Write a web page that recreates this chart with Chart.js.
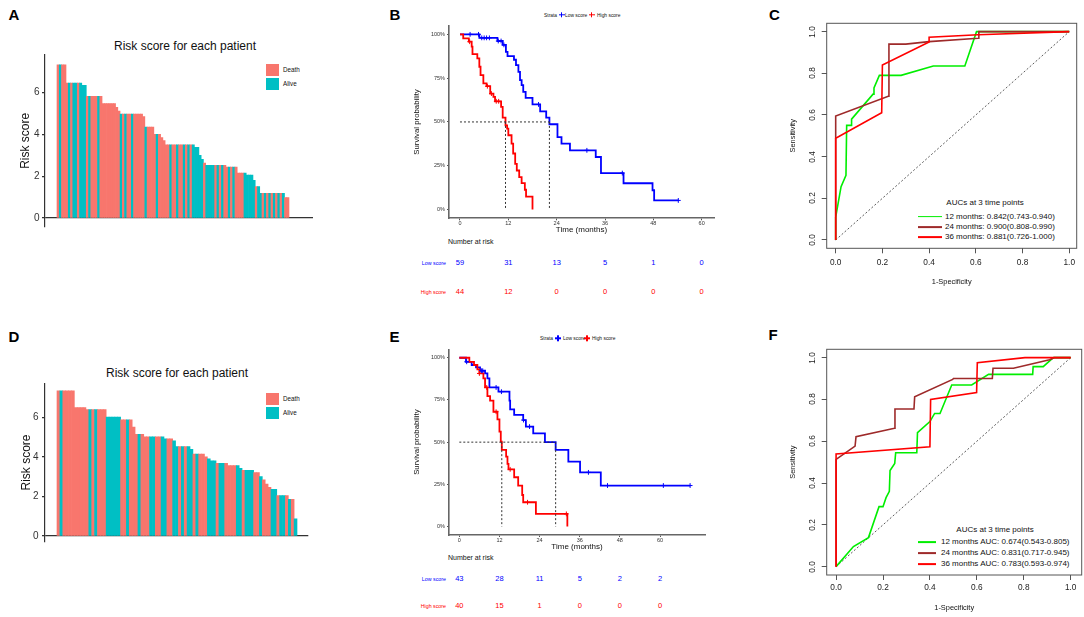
<!DOCTYPE html>
<html>
<head>
<meta charset="utf-8">
<title>Risk score, survival and time-dependent ROC</title>
<script src="https://cdn.jsdelivr.net/npm/chart.js@4.4.1/dist/chart.umd.min.js"></script>
<style>
  html, body { margin: 0; padding: 0; background: #fff; }
  body { position: relative; width: 1084px; height: 617px; overflow: hidden;
         font-family: "Liberation Sans", Arial, sans-serif; color: #111; }
  .panel { position: absolute; }
  .txt { position: absolute; white-space: nowrap; line-height: 1; }
  .c { transform: translate(-50%, -50%); }
  .l { transform: translateY(-50%); }
  .r { transform: translate(-100%, -50%); }
  .rot { transform: translate(-50%, -50%) rotate(-90deg); }
  /* very small labels: draw at double size, then halve */
  .l.tiny { transform-origin: 0 50%; transform: translateY(-50%) scale(0.5); }
  .r.tiny { transform-origin: 100% 50%; transform: translate(-100%, -50%) scale(0.5); }
  .letter { font-size: 15px; font-weight: bold; color: #000; }
  .key { position: absolute; width: 12.6px; height: 12.6px; }
  .swatch { position: absolute; height: 1.8px; transform: translateY(-50%); }
  .kmkey { position: absolute; width: 6px; height: 1.4px; transform: translateY(-50%); }
  .kmkey::after { content: ""; position: absolute; left: 2.3px; top: -2.1px;
                  width: 1.4px; height: 5.6px; background: inherit; }
</style>
</head>
<body>

<!-- panel letters -->
<div class="txt c letter" style="left:14px;top:14px">A</div>
<div class="txt c letter" style="left:395px;top:13.5px">B</div>
<div class="txt c letter" style="left:774.5px;top:14px">C</div>
<div class="txt c letter" style="left:14px;top:335.5px">D</div>
<div class="txt c letter" style="left:394.5px;top:336px">E</div>
<div class="txt c letter" style="left:773px;top:334px">F</div>

<!-- A / D titles and legends -->
<div class="txt c" style="left:185px;top:46px;font-size:12px">Risk score for each patient</div>
<div class="key" style="left:266px;top:63.5px;background:#F8766D"></div>
<div class="txt l" style="left:283px;top:70px;font-size:6.3px">Death</div>
<div class="key" style="left:266px;top:77.5px;background:#00BFC4"></div>
<div class="txt l" style="left:283px;top:84px;font-size:6.3px">Alive</div>

<div class="txt c" style="left:177px;top:373px;font-size:12px">Risk score for each patient</div>
<div class="key" style="left:266px;top:392.7px;background:#F8766D"></div>
<div class="txt l" style="left:283px;top:399px;font-size:6.3px">Death</div>
<div class="key" style="left:266px;top:406.7px;background:#00BFC4"></div>
<div class="txt l" style="left:283px;top:413px;font-size:6.3px">Alive</div>

<!-- B / E legends and risk-table labels -->
<div class="txt l tiny" style="left:544px;top:14.6px;font-size:9.8px">Strata</div>
<div class="kmkey" style="left:558.7px;top:14.6px;background:#0000FF"></div>
<div class="txt l tiny" style="left:564.5px;top:14.6px;font-size:9.8px">Low score</div>
<div class="kmkey" style="left:588.7px;top:14.6px;background:#FF0000"></div>
<div class="txt l tiny" style="left:597px;top:14.6px;font-size:9.8px">High score</div>
<div class="txt l" style="left:448px;top:240.7px;font-size:7px">Number at risk</div>
<div class="txt r tiny" style="left:446px;top:263.3px;font-size:10.6px;color:#0000FF">Low score</div>
<div class="txt r tiny" style="left:446px;top:291.7px;font-size:10.6px;color:#FF0000">High score</div>

<div class="txt l tiny" style="left:540px;top:338.3px;font-size:9.8px">Strata</div>
<div class="kmkey" style="left:555px;top:338.3px;background:#0000FF"></div>
<div class="txt l tiny" style="left:563px;top:338.3px;font-size:9.8px">Low score</div>
<div class="kmkey" style="left:584px;top:338.3px;background:#FF0000"></div>
<div class="txt l tiny" style="left:592px;top:338.3px;font-size:9.8px">High score</div>
<div class="txt l" style="left:448px;top:557.3px;font-size:7px">Number at risk</div>
<div class="txt r tiny" style="left:446px;top:579.3px;font-size:10.6px;color:#0000FF">Low score</div>
<div class="txt r tiny" style="left:446px;top:606px;font-size:10.6px;color:#FF0000">High score</div>

<!-- C / F legends -->
<div class="txt c" style="left:985px;top:203px;font-size:8px">AUCs at 3 time points</div>
<div class="swatch" style="left:918px;top:216.7px;width:24px;background:#00EE00"></div>
<div class="txt l" style="left:945px;top:216.7px;font-size:8px">12 months: 0.842(0.743-0.940)</div>
<div class="swatch" style="left:918px;top:227.3px;width:24px;background:#9E2A2A"></div>
<div class="txt l" style="left:945px;top:227.3px;font-size:8px">24 months: 0.900(0.808-0.990)</div>
<div class="swatch" style="left:918px;top:237.3px;width:24px;background:#FF0000"></div>
<div class="txt l" style="left:945px;top:237.3px;font-size:8px">36 months: 0.881(0.726-1.000)</div>

<div class="txt c" style="left:995px;top:530px;font-size:8px">AUCs at 3 time points</div>
<div class="swatch" style="left:918px;top:542.3px;width:18px;background:#00EE00"></div>
<div class="txt l" style="left:941px;top:542.3px;font-size:8px">12 months AUC: 0.674(0.543-0.805)</div>
<div class="swatch" style="left:918px;top:553.3px;width:18px;background:#9E2A2A"></div>
<div class="txt l" style="left:941px;top:553.3px;font-size:8px">24 months AUC: 0.831(0.717-0.945)</div>
<div class="swatch" style="left:918px;top:564.3px;width:18px;background:#FF0000"></div>
<div class="txt l" style="left:941px;top:564.3px;font-size:8px">36 months AUC: 0.783(0.593-0.974)</div>

<!-- chart boxes -->
<div class="panel" style="left:0;top:40px;width:330px;height:200px"><canvas id="riskA"></canvas></div>
<div class="panel" style="left:395px;top:20px;width:330px;height:220px"><canvas id="kmB"></canvas></div>
<div class="panel" style="left:762px;top:10px;width:322px;height:290px"><canvas id="rocC"></canvas></div>
<div class="panel" style="left:0;top:370px;width:330px;height:190px"><canvas id="riskD"></canvas></div>
<div class="panel" style="left:395px;top:330px;width:330px;height:225px"><canvas id="kmE"></canvas></div>
<div class="panel" style="left:762px;top:335px;width:322px;height:282px"><canvas id="rocF"></canvas></div>

<script>
// ── Data ───────────────────────────────────────────────────────────────
// Risk score per patient, sorted high → low; status: D = death, A = alive
const riskTicks = [0, 2, 4, 6];

const riskScoreA = [
  7.33, 7.33, 7.33, 7.33,
  6.45, 6.45, 6.45, 6.45, 6.45, 6.45, 6.45,
  6.35, 6.35,
  5.82, 5.82, 5.82, 5.82, 5.82, 5.82, 5.82,
  5.48, 5.48, 5.48, 5.48, 5.48, 5.48,
  5.30, 5.12,
  4.97, 4.97, 4.97, 4.97, 4.97, 4.97, 4.97, 4.97, 4.97, 4.97,
  4.85,
  4.35, 4.35, 4.35, 4.35,
  4.00, 4.00, 4.00,
  3.85, 3.70,
  3.50, 3.50, 3.50, 3.50, 3.50, 3.50, 3.50, 3.50, 3.50, 3.50, 3.50, 3.50, 3.50,
  3.38, 3.38,
  3.00, 2.80, 2.62,
  2.52, 2.52, 2.52, 2.52, 2.52, 2.52, 2.52, 2.52, 2.52,
  2.43, 2.43, 2.43, 2.43, 2.43,
  2.15, 2.15, 2.15, 2.15,
  2.05, 2.05, 2.05,
  1.80,
  1.50, 1.50,
  1.18, 1.18, 1.18, 1.18, 1.18, 1.18, 1.18, 1.18, 1.18, 1.18, 1.18,
  0.97, 0.97
];
const statusA = [
  'D','A','D','D',
  'D','A','D','A','A','D','A',
  'A','A',
  'D','A','D','D','D','A','D',
  'D','D','D','D','D','D',
  'D','D',
  'A','D','A','D','D','A','D','D','D','D',
  'D',
  'A','D','D','D',
  'D','A','D',
  'D','D',
  'D','D','A','D','D','A','D','D','A','D','A','D','A',
  'A','A',
  'A','A','D',
  'A','A','A','A','D','A','D','A','D',
  'D','A','D','A','D',
  'D','D','D','A',
  'A','A','A',
  'A',
  'D','A',
  'A','D','A','D','A','D','A','D','A','D','A',
  'D','D'
];

const riskScoreD = [
  7.33, 7.33, 7.33, 7.33, 7.33, 7.33,
  6.48, 6.48, 6.48, 6.48,
  6.38, 6.38, 6.38, 6.38, 6.38, 6.38, 6.38,
  6.00, 6.00, 6.00, 6.00, 6.00,
  5.87, 5.87, 5.87, 5.87,
  5.50,
  5.13, 5.13, 5.13,
  5.01, 5.01, 5.01, 5.01, 5.01, 5.01, 5.01,
  4.90, 4.90, 4.90,
  4.80,
  4.51, 4.51, 4.51, 4.51, 4.51,
  4.38,
  4.14, 4.14, 4.14, 4.14,
  4.00, 3.90,
  3.80, 3.80,
  3.67, 3.67, 3.67, 3.67,
  3.55, 3.55, 3.55, 3.55,
  3.42,
  3.32, 3.32, 3.32, 3.32,
  3.20, 3.20,
  3.00, 2.83, 2.62, 2.45,
  2.36, 2.36,
  2.04, 2.04, 2.04, 2.04,
  1.85, 1.85,
  0.86
];
const statusD = [
  'D','A','D','D','D','D',
  'D','D','D','D',
  'D','A','D','A','D','D','D',
  'A','A','A','A','A',
  'D','D','A','D',
  'D',
  'D','A','D',
  'D','D','A','A','D','D','A',
  'A','D','D',
  'A',
  'A','D','A','D','A',
  'A',
  'D','A','D','D',
  'D','A',
  'A','A',
  'D','A','A','D',
  'D','D','D','A',
  'A',
  'D','A','A','A',
  'D','D',
  'A','D','D','D',
  'A','A',
  'D','A','A','D',
  'A','D',
  'A'
];

// Kaplan–Meier curves: event times (months) and survival probability
const timeTicks = [0, 12, 24, 36, 48, 60];
const survTicks = [0, 0.25, 0.5, 0.75, 1];

const kmTimeLowB  = [0, 4.8, 9.3, 10.6, 11.4, 11.8, 13.4, 13.9, 14.5, 14.9, 15.3, 15.7, 16.3, 18.0, 19.9, 21.4, 22.2, 24.2, 25.2, 27.3, 33.7, 35.0, 40.6, 47.8, 48.2, 54.2];
const kmSurvLowB  = [1.0, 0.98, 0.962, 0.94, 0.90, 0.876, 0.855, 0.824, 0.786, 0.739, 0.71, 0.672, 0.637, 0.60, 0.56, 0.525, 0.487, 0.413, 0.376, 0.338, 0.30, 0.208, 0.15, 0.11, 0.052, 0.052];
const kmTimeHighB = [0, 0.8, 2.2, 2.9, 3.1, 4.3, 4.8, 5.1, 5.8, 6.6, 7.5, 8.3, 8.7, 10.2, 10.6, 11.3, 11.7, 12.0, 12.8, 13.2, 13.7, 14.1, 14.7, 15.3, 16.1, 16.4, 18.0];
const kmSurvHighB = [1.0, 0.977, 0.958, 0.93, 0.887, 0.863, 0.815, 0.767, 0.72, 0.704, 0.662, 0.643, 0.618, 0.586, 0.525, 0.48, 0.462, 0.424, 0.376, 0.32, 0.261, 0.223, 0.185, 0.151, 0.113, 0.074, 0.0];
const censorTimeLowB  = [2.5, 4.6, 5.4, 6.0, 6.6, 7.3, 9.5, 10.2, 10.9, 19.5, 31.5, 40.3, 54.2];
const censorSurvLowB  = [1.0, 1.0, 0.98, 0.98, 0.98, 0.98, 0.962, 0.962, 0.94, 0.60, 0.338, 0.208, 0.052];
const censorTimeHighB = [2.4, 6.8, 7.8, 9.0, 9.6];
const censorSurvHighB = [0.958, 0.704, 0.662, 0.618, 0.618];
const medianB = [11.3, 22.2];            // high score, low score

const kmTimeLowE  = [0, 2.0, 3.7, 5.0, 6.2, 7.7, 8.4, 9.0, 11.7, 15.0, 15.2, 16.4, 19.1, 19.9, 22.1, 25.6, 28.8, 32.6, 36.1, 42.3, 69.0];
const kmSurvLowE  = [1.0, 0.976, 0.957, 0.943, 0.923, 0.907, 0.878, 0.824, 0.799, 0.746, 0.694, 0.661, 0.631, 0.592, 0.552, 0.50, 0.454, 0.385, 0.321, 0.243, 0.243];
const kmTimeHighE = [0, 3.0, 4.4, 5.4, 6.0, 7.2, 7.7, 8.4, 9.2, 10.2, 11.4, 12.0, 12.4, 12.7, 14.0, 14.4, 14.7, 16.4, 17.6, 18.8, 19.1, 22.9, 32.3];
const kmSurvHighE = [1.0, 0.976, 0.957, 0.931, 0.907, 0.878, 0.824, 0.773, 0.746, 0.68, 0.635, 0.562, 0.503, 0.454, 0.414, 0.371, 0.339, 0.292, 0.243, 0.187, 0.144, 0.075, 0.0];
const censorTimeLowE  = [2.2, 6.6, 7.0, 11.0, 12.6, 19.2, 21.0, 38.6, 44.3, 61.0, 69.0];
const censorSurvLowE  = [0.976, 0.923, 0.923, 0.824, 0.799, 0.631, 0.592, 0.321, 0.243, 0.243, 0.243];
const censorTimeHighE = [6.0, 8.2, 11.0, 15.2, 20.4, 32.0];
const censorSurvHighE = [0.907, 0.824, 0.68, 0.339, 0.144, 0.075];
const medianE = [12.7, 28.8];

// Number at risk at each time tick
const riskTimes   = [0, 12, 24, 36, 48, 60];
const atRiskLowB  = [59, 31, 13, 5, 1, 0];
const atRiskHighB = [44, 12, 0, 0, 0, 0];
const atRiskLowE  = [43, 28, 11, 5, 2, 2];
const atRiskHighE = [40, 15, 1, 0, 0, 0];

// Time-dependent ROC curves (1-specificity, sensitivity)
const rocTicks = [0, 0.2, 0.4, 0.6, 0.8, 1.0];
const chanceLine = [0, 1];

const fpr12C = [0, 0, 0.023, 0.044, 0.047, 0.068, 0.068, 0.16, 0.164, 0.187, 0.28, 0.418, 0.553, 0.603, 1];
const tpr12C = [0, 0.11, 0.256, 0.31, 0.55, 0.55, 0.58, 0.70, 0.73, 0.79, 0.79, 0.835, 0.835, 1.0, 1.0];
const fpr24C = [0, 0, 0.225, 0.228, 0.30, 0.40, 0.61, 0.613, 1];
const tpr24C = [0, 0.595, 0.69, 0.94, 0.94, 0.952, 0.968, 1.0, 1.0];
const fpr36C = [0, 0, 0.197, 0.2, 0.4, 0.4, 0.61, 1];
const tpr36C = [0, 0.488, 0.611, 0.84, 0.95, 0.973, 0.985, 1.0];

const fpr12F = [0, 0.074, 0.138, 0.183, 0.20, 0.213, 0.227, 0.23, 0.25, 0.254, 0.344, 0.347, 0.40, 0.42, 0.443, 0.493, 0.578, 0.65, 0.838, 0.84, 0.883, 0.926, 1];
const tpr12F = [0, 0.096, 0.139, 0.287, 0.287, 0.33, 0.36, 0.46, 0.494, 0.545, 0.545, 0.641, 0.694, 0.733, 0.733, 0.869, 0.869, 0.92, 0.92, 0.957, 0.957, 1.0, 1.0];
const fpr24F = [0, 0, 0.081, 0.085, 0.249, 0.251, 0.332, 0.335, 0.497, 0.5, 0.666, 0.669, 0.756, 0.91, 0.93, 1];
const tpr24F = [0, 0.513, 0.577, 0.622, 0.662, 0.754, 0.754, 0.813, 0.896, 0.90, 0.90, 0.949, 0.949, 0.99, 1.0, 1.0];
const fpr36F = [0, 0, 0.40, 0.403, 0.599, 0.602, 0.805, 1];
const tpr36F = [0, 0.539, 0.574, 0.80, 0.833, 0.976, 1.0, 1.0];

// ── Styling ────────────────────────────────────────────────────────────
const DEATH = '#F8766D', ALIVE = '#00BFC4';
const LOW = '#0000FF', HIGH = '#FF0000';
const GREEN = '#00EE00', BROWN = '#9E2A2A', RED = '#FF0000';

Chart.defaults.font.family = '"Liberation Sans", Arial, sans-serif';
Chart.defaults.color = '#222';
Chart.defaults.animation = false;
Chart.defaults.events = [];
Chart.defaults.maintainAspectRatio = false;
Chart.defaults.plugins.legend.display = false;
Chart.defaults.plugins.tooltip.enabled = false;

const pts = (xs, ys) => xs.map((x, i) => ({ x, y: ys[i] }));
const fixedTicks = vals => s => { s.ticks = vals.map(v => ({ value: v })); };

// Box around the plotting region, as base R draws it
const frame = {
  id: 'frame',
  afterDraw(chart) {
    const { ctx, chartArea: a } = chart;
    ctx.save();
    ctx.strokeStyle = '#555';
    ctx.lineWidth = 1;
    ctx.strokeRect(a.left, a.top, a.right - a.left, a.bottom - a.top);
    ctx.restore();
  }
};

function addText(text, x, y, cls, css) {
  const el = document.createElement('div');
  el.className = 'txt ' + cls;
  el.textContent = text;
  el.style.left = x + 'px';
  el.style.top = y + 'px';
  Object.assign(el.style, css);
  document.body.appendChild(el);
}

// ── Risk score bar charts (A, D) ───────────────────────────────────────
function riskChart(id, scores, status, L) {
  const n = scores.length;
  const w = L.barsPx / n;
  return new Chart(document.getElementById(id), {
    type: 'bar',
    data: {
      datasets: [{
        data: scores.map((v, i) => ({ x: i, y: v })),
        backgroundColor: status.map(s => (s === 'D' ? DEATH : ALIVE)),
        borderWidth: 0,
        barPercentage: 1,
        categoryPercentage: 1
      }]
    },
    options: {
      layout: { padding: { left: 0, top: L.top, right: L.right, bottom: L.bottom } },
      scales: {
        x: { type: 'linear', display: false, offset: false,
             min: -0.5 - L.gapL / w, max: n - 0.5 + L.gapR / w },
        y: {
          min: L.ymin, max: L.ymax,
          afterBuildTicks: fixedTicks(riskTicks),
          afterFit: s => { s.width = 45; },
          ticks: { font: { size: 10 }, color: '#333', padding: L.tickPad },
          grid: { color: c => (c.tick && c.tick.value === 0 ? '#333' : 'rgba(0,0,0,0)'),
                  lineWidth: 1.2, tickLength: 3, tickColor: '#333', tickWidth: 1.2 },
          border: { color: '#333', width: 1.2 },
          title: { display: true, text: 'Risk score', font: { size: 12 }, color: '#111',
                   padding: { top: L.titlePad, bottom: 0 } }
        }
      }
    }
  });
}

riskChart('riskA', riskScoreA, statusA,
  { top: 15, right: 17, bottom: 13.3, gapL: 12, gapR: 24, barsPx: 232,
    ymin: -0.42, ymax: 7.8, tickPad: 2.5, titlePad: 18.8 });
riskChart('riskD', riskScoreD, statusD,
  { top: 13.3, right: 21.7, bottom: 18.3, gapL: 12, gapR: 11.3, barsPx: 240,
    ymin: -0.29, ymax: 7.71, tickPad: 3.5, titlePad: 19.5 });

// ── Kaplan–Meier charts (B, E) ─────────────────────────────────────────
function kmChart(id, d, L) {
  const dotted = data => ({ data, borderColor: '#333', borderWidth: 1, borderDash: [2, 2],
                            pointRadius: 0, stepped: false });
  const marks = (data, color) => ({ data, showLine: false, pointStyle: 'cross', pointRadius: 2.4,
                                    borderColor: color, borderWidth: 1 });
  const curve = (data, color) => ({ data, borderColor: color, borderWidth: 1.8, stepped: true,
                                    pointRadius: 0 });
  const [mHigh, mLow] = d.median;
  return new Chart(document.getElementById(id), {
    type: 'line',
    data: {
      datasets: [
        dotted([{ x: 0, y: 0.5 }, { x: mLow, y: 0.5 }]),
        dotted([{ x: mHigh, y: 0.5 }, { x: mHigh, y: 0 }]),
        dotted([{ x: mLow, y: 0.5 }, { x: mLow, y: 0 }]),
        marks(pts(d.cHighT, d.cHighS), HIGH),
        marks(pts(d.cLowT, d.cLowS), LOW),
        curve(pts(d.highT, d.highS), HIGH),
        curve(pts(d.lowT, d.lowS), LOW)
      ]
    },
    options: {
      layout: { padding: { left: 0, top: L.top, right: L.right, bottom: 0 } },
      scales: {
        x: {
          type: 'linear', min: L.xmin, max: L.xmax,
          afterBuildTicks: fixedTicks(timeTicks),
          afterFit: s => { s.height = L.xh; },
          ticks: { font: { size: 5.5 }, color: '#333', padding: 0, maxRotation: 0, autoSkip: false },
          grid: { drawOnChartArea: false, tickLength: 2, tickColor: '#555', tickWidth: 1 },
          border: { color: '#666', width: 1.6 },
          title: { display: true, text: 'Time (months)', font: { size: 8 }, color: '#111',
                   padding: { top: 0, bottom: L.xtPad } }
        },
        y: {
          min: -0.05, max: 1.05,
          afterBuildTicks: fixedTicks(survTicks),
          afterFit: s => { s.width = 54; },
          ticks: { callback: v => Math.round(v * 100) + '%', font: { size: 5.5 }, color: '#333', padding: 2 },
          grid: { drawOnChartArea: false, tickLength: 2, tickColor: '#555', tickWidth: 1 },
          border: { color: '#666', width: 1.6 },
          title: { display: true, text: 'Survival probability', font: { size: 7.8 }, color: '#111',
                   padding: { top: L.ytPad, bottom: 0 } }
        }
      }
    }
  });
}

function atRiskRow(chart, boxLeft, counts, y, color) {
  counts.forEach((n, i) => {
    addText(String(n), boxLeft + chart.scales.x.getPixelForValue(riskTimes[i]), y, 'c',
            { fontSize: '7.5px', color });
  });
}

const kmB = kmChart('kmB', {
  lowT: kmTimeLowB, lowS: kmSurvLowB, highT: kmTimeHighB, highS: kmSurvHighB,
  cLowT: censorTimeLowB, cLowS: censorSurvLowB, cHighT: censorTimeHighB, cHighS: censorSurvHighB,
  median: medianB
}, { top: 5.6, right: 11, xh: 21.7, xmin: -2.73, xmax: 63.06, xtPad: 5.2, ytPad: 17 });
atRiskRow(kmB, 395, atRiskLowB, 263.3, LOW);
atRiskRow(kmB, 395, atRiskHighB, 291.7, HIGH);

const kmE = kmChart('kmE', {
  lowT: kmTimeLowE, lowS: kmSurvLowE, highT: kmTimeHighE, highS: kmSurvHighE,
  cLowT: censorTimeLowE, cLowS: censorSurvLowE, cHighT: censorTimeHighE, cHighS: censorSurvHighE,
  median: medianE
}, { top: 19.3, right: 20, xh: 20, xmin: -3.08, xmax: 73.45, xtPad: 3.5, ytPad: 17.6 });
atRiskRow(kmE, 395, atRiskLowE, 579.3, LOW);
atRiskRow(kmE, 395, atRiskHighE, 606, HIGH);

// ── ROC charts (C, F) ──────────────────────────────────────────────────
function rocChart(id, curves, L) {
  const line = (data, color) => ({ data, borderColor: color, borderWidth: 1.6, pointRadius: 0 });
  return new Chart(document.getElementById(id), {
    type: 'line',
    data: {
      datasets: curves.map(c => line(pts(c.fpr, c.tpr), c.color)).reverse().concat([{
        data: pts(chanceLine, chanceLine), borderColor: '#333', borderWidth: 0.8,
        borderDash: [2, 2], pointRadius: 0
      }])
    },
    options: {
      layout: { padding: { left: 0, top: L.top, right: L.right, bottom: 0 } },
      scales: {
        x: {
          type: 'linear', min: L.xmin, max: L.xmax,
          afterBuildTicks: fixedTicks(rocTicks),
          afterFit: s => { s.height = L.xh; },
          ticks: { callback: v => v.toFixed(1), font: { size: 8.3 }, color: '#222',
                   padding: L.xTickPad, maxRotation: 0, autoSkip: false },
          grid: { drawOnChartArea: false, tickLength: 5, tickColor: '#555', tickWidth: 1 },
          border: { display: false },
          title: { display: true, text: '1-Specificity', font: { size: 7.4 }, color: '#111',
                   padding: { top: 0, bottom: L.xtPad } }
        },
        y: {
          min: -0.04, max: 1.04,
          afterBuildTicks: fixedTicks(rocTicks),
          afterFit: s => { s.width = 64.7; },
          ticks: { display: false },   // rotated labels are placed as text below
          grid: { drawOnChartArea: false, tickLength: 5, tickColor: '#555', tickWidth: 1 },
          border: { display: false },
          title: { display: true, text: 'Sensitivity', font: { size: 7.4 }, color: '#111',
                   padding: { top: L.ytPad, bottom: 0 } }
        }
      }
    },
    plugins: [frame]
  });
}

// R draws y labels parallel to the axis (reading upwards)
function rocYLabels(chart, box, x) {
  rocTicks.forEach(v => {
    addText(v.toFixed(1), x, box.top + chart.scales.y.getPixelForValue(v), 'rot',
            { fontSize: '8.3px', color: '#222' });
  });
}

const rocC = rocChart('rocC', [
  { fpr: fpr12C, tpr: tpr12C, color: GREEN },
  { fpr: fpr24C, tpr: tpr24C, color: BROWN },
  { fpr: fpr36C, tpr: tpr36C, color: RED }
], { top: 13.3, right: 7.3, xh: 51.7, xmin: -0.0385, xmax: 1.032,
     xTickPad: 4.3, xtPad: 13.8, ytPad: 26.9 });
rocYLabels(rocC, { top: 10 }, 812.3);

const rocF = rocChart('rocF', [
  { fpr: fpr12F, tpr: tpr12F, color: GREEN },
  { fpr: fpr24F, tpr: tpr24F, color: BROWN },
  { fpr: fpr36F, tpr: tpr36F, color: RED }
], { top: 14.3, right: 2.3, xh: 42, xmin: -0.04, xmax: 1.047,
     xTickPad: 2.3, xtPad: 4.9, ytPad: 26.6 });
rocYLabels(rocF, { top: 335 }, 812);
</script>
</body>
</html>
